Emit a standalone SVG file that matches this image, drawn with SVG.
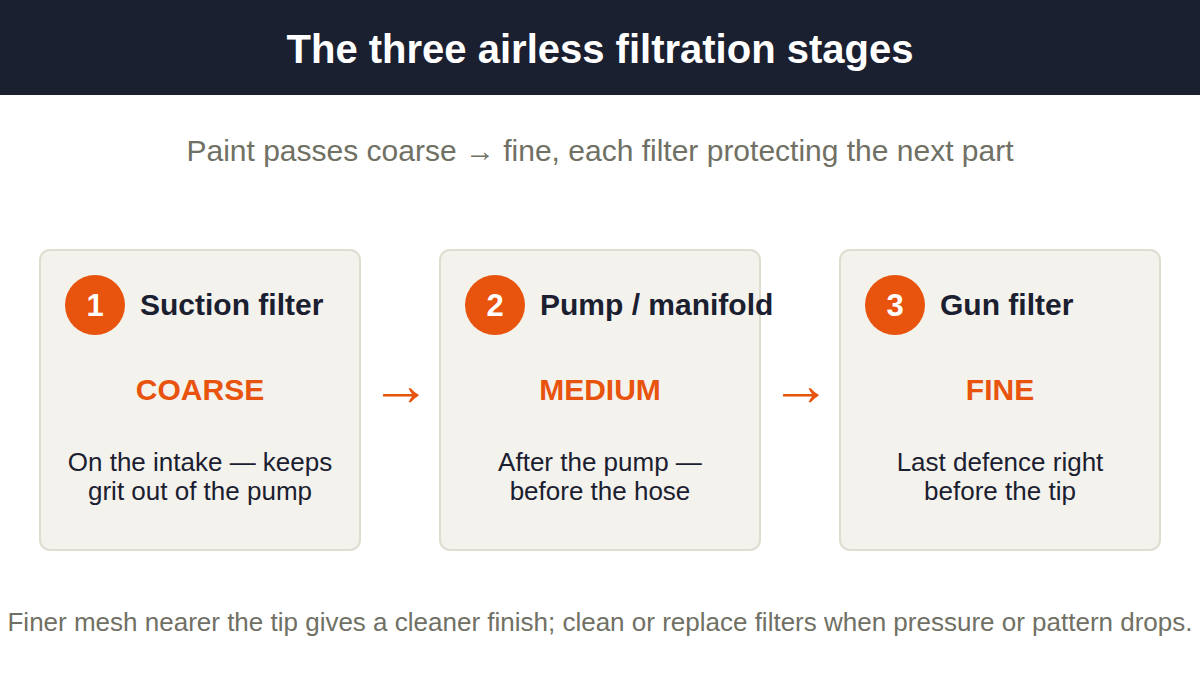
<svg xmlns="http://www.w3.org/2000/svg" width="1200" height="675" viewBox="0 0 1200 675">
<style>
text{font-family:"Liberation Sans",Arial,sans-serif}
.card{fill:#f4f2ed;stroke:#e0ddd0;stroke-width:2}
.badge{fill:#e8530e}
.num{fill:#fff;font-size:31px;font-weight:bold;text-anchor:middle}
.ttl{fill:#1b2030;font-size:30px;font-weight:bold}
.lvl{fill:#e8530e;font-size:30px;font-weight:bold;text-anchor:middle}
.desc{fill:#1b2030;font-size:26px;text-anchor:middle}
.arr{fill:#e8530e;font-size:60px;text-anchor:middle}
.grey{fill:#707064;text-anchor:middle}
</style>
<rect width="1200" height="675" fill="#fff"/>
<g id="header">
<rect x="0" y="0" width="1200" height="95" fill="#1b2030"/>
<text x="600" y="63" fill="#fff" font-size="40" font-weight="bold" text-anchor="middle">The three airless filtration stages</text>
</g>
<text class="grey" x="600" y="161" font-size="30">Paint passes coarse → fine, each filter protecting the next part</text>
<g id="connectors">
<text class="arr" x="401" y="405">→</text>
<text class="arr" x="801" y="405">→</text>
</g>
<g id="stage1">
<rect class="card" x="40" y="250" width="320" height="300" rx="10"/>
<circle class="badge" cx="95" cy="305" r="30"/>
<text class="num" x="95" y="316">1</text>
<text class="ttl" x="140" y="315">Suction filter</text>
<text class="lvl" x="200" y="400">COARSE</text>
<text class="desc" x="200" y="471">On the intake — keeps</text>
<text class="desc" x="200" y="500">grit out of the pump</text>
</g>
<g id="stage2">
<rect class="card" x="440" y="250" width="320" height="300" rx="10"/>
<circle class="badge" cx="495" cy="305" r="30"/>
<text class="num" x="495" y="316">2</text>
<text class="ttl" x="540" y="315">Pump / manifold</text>
<text class="lvl" x="600" y="400">MEDIUM</text>
<text class="desc" x="600" y="471">After the pump —</text>
<text class="desc" x="600" y="500">before the hose</text>
</g>
<g id="stage3">
<rect class="card" x="840" y="250" width="320" height="300" rx="10"/>
<circle class="badge" cx="895" cy="305" r="30"/>
<text class="num" x="895" y="316">3</text>
<text class="ttl" x="940" y="315">Gun filter</text>
<text class="lvl" x="1000" y="400">FINE</text>
<text class="desc" x="1000" y="471">Last defence right</text>
<text class="desc" x="1000" y="500">before the tip</text>
</g>
<text class="grey" x="600" y="631" font-size="26">Finer mesh nearer the tip gives a cleaner finish; clean or replace filters when pressure or pattern drops.</text>
</svg>
